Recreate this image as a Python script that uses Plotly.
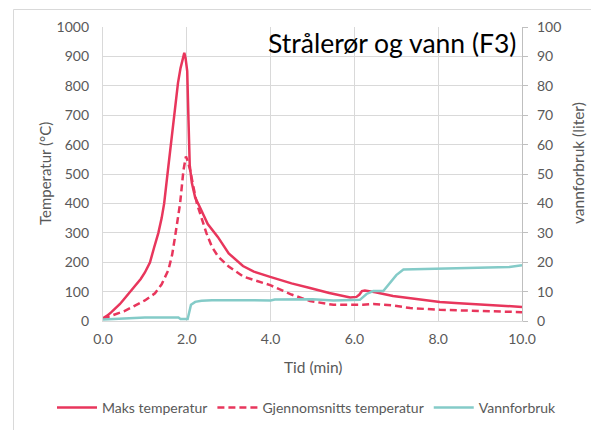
import plotly.graph_objects as go

# ---------------- data ----------------
t_maks = [0, 0.1, 0.2, 0.3, 0.4, 0.5, 0.64, 0.8, 0.9, 1.0, 1.12, 1.22, 1.32, 1.4, 1.46,
          1.55, 1.62, 1.69, 1.75, 1.79, 1.85, 1.9, 1.94, 1.97, 2.01, 2.04, 2.07, 2.12,
          2.2, 2.31, 2.5, 2.74, 3.0, 3.34, 3.6, 3.99, 4.5, 4.94, 5.4, 5.9, 6.05, 6.12,
          6.18, 6.25, 6.5, 6.92, 7.5, 8.04, 8.5, 9.0, 9.5, 10.0]
maks_temp = [10, 18, 30, 42, 57, 74, 97, 124, 143, 165, 199, 250, 299, 350, 400,
             513, 600, 684, 780, 810, 860, 895, 912, 895, 850, 684, 530, 470,
             420, 388, 330, 286, 230, 187, 168, 150, 128, 112, 95, 80, 82, 90,
             102, 104, 98, 85, 74, 65, 60, 56, 52, 48]

t_snitt = [0, 0.25, 0.5, 0.72, 1.0, 1.24, 1.4, 1.56, 1.65, 1.72, 1.78, 1.84, 1.92, 1.98,
           2.02, 2.08, 2.16, 2.24, 2.47, 2.6, 2.75, 3.0, 3.35, 3.99, 4.5, 4.94, 5.5,
           6.0, 6.2, 6.45, 6.92, 7.33, 8.04, 9.31, 10.0]
snitt_temp = [8, 20, 33, 49, 70, 94, 125, 173, 225, 287, 340, 400, 513, 560,
              545, 513, 455, 400, 298, 252, 219, 185, 151, 122, 90, 68, 55,
              54, 55, 58, 53, 44, 38, 33, 30]

t_vann = [0, 0.3, 0.8, 1.0, 1.8, 1.85, 2.02, 2.05, 2.1, 2.2, 2.35, 2.6, 3.0, 4.0, 4.1,
          5.0, 5.5, 6.0, 6.13, 6.29, 6.45, 6.69, 6.8, 7.0, 7.17, 8.04, 9.31, 9.7, 10.0]
vann = [0.5, 0.7, 1.0, 1.2, 1.2, 0.7, 0.7, 3.0, 5.5, 6.5, 6.9, 7.1, 7.0, 7.0, 7.3,
        7.4, 7.0, 7.0, 7.2, 9.2, 10.2, 10.2, 12.2, 15.6, 17.5, 17.8, 18.2, 18.4, 19.0]

x_ticks = [0, 2, 4, 6, 8, 10]
x_ticktext = ["0.0", "2.0", "4.0", "6.0", "8.0", "10.0"]

RED = "#E8365C"
TEAL = "#84CBC8"
GREY_TXT = "#595959"
GRID = "#D9D9D9"
FONT = "Lato"

fig = go.Figure()
fig.add_trace(go.Scatter(x=t_maks, y=maks_temp, name="Maks temperatur", mode="lines",
                         line=dict(color=RED, width=2.5)))
fig.add_trace(go.Scatter(x=t_snitt, y=snitt_temp, name="Gjennomsnitts temperatur", mode="lines",
                         line=dict(color=RED, width=2.5, dash="7px,4px")))
fig.add_trace(go.Scatter(x=t_vann, y=vann, name="Vannforbruk", mode="lines", yaxis="y2",
                         line=dict(color=TEAL, width=2.5)))

L, R, T, B = 103, 69, 27, 109
W, H = 591, 430
pw, ph = W - L - R, H - T - B

def px(xp):
    return (xp - L) / pw

def py(yp):
    return (H - B - yp) / ph

fig.update_layout(
    width=W, height=H,
    margin=dict(l=L, r=R, t=T, b=B, autoexpand=False),
    paper_bgcolor="white", plot_bgcolor="white",
    font=dict(family=FONT, size=14, color=GREY_TXT),
    showlegend=True,
    legend=dict(orientation="h", x=px(52), xanchor="left", y=py(408), yanchor="middle",
                font=dict(size=14, color=GREY_TXT), traceorder="normal",
                itemwidth=40, tracegroupgap=0),
    xaxis=dict(range=[0, 10], tickvals=x_ticks, ticktext=x_ticktext,
               showgrid=True, gridcolor=GRID, gridwidth=1.3,
               showline=True, linecolor=GRID, linewidth=1.3,
               ticks="", ticklabelstandoff=5, zeroline=False,
               tickfont=dict(size=14, color=GREY_TXT)),
    yaxis=dict(range=[0, 1000], dtick=100, showgrid=True, gridcolor=GRID, gridwidth=1.3,
               showline=True, linecolor=GRID, linewidth=1.3, ticks="",
               ticklabelstandoff=10, zeroline=False,
               tickfont=dict(size=14, color=GREY_TXT)),
    yaxis2=dict(range=[0, 100], dtick=10, overlaying="y", side="right",
                showgrid=False, showline=True, linecolor="#BFBFBF", linewidth=1.3,
                ticks="outside", ticklen=5, tickcolor="#BFBFBF",
                ticklabelstandoff=6, zeroline=False,
                tickfont=dict(size=14, color=GREY_TXT)),
    annotations=[
        dict(text="Strålerør og vann (F3)", xref="paper", yref="paper",
             x=px(518), y=py(43), xanchor="right", yanchor="middle", showarrow=False,
             font=dict(family=FONT, size=26.5, color="black")),
        dict(text="Tid (min)", xref="paper", yref="paper", x=px(313), y=py(367),
             xanchor="center", yanchor="middle", showarrow=False,
             font=dict(size=15.5, color=GREY_TXT)),
        dict(text="Temperatur (°C)", xref="paper", yref="paper", x=px(45), y=py(174),
             xanchor="center", yanchor="middle", textangle=-90, showarrow=False,
             font=dict(size=15, color=GREY_TXT)),
        dict(text="vannforbruk (liter)", xref="paper", yref="paper", x=px(578), y=py(163),
             xanchor="center", yanchor="middle", textangle=-90, showarrow=False,
             font=dict(size=15.5, color=GREY_TXT)),
    ],
    shapes=[
        dict(type="rect", xref="paper", yref="paper", x0=px(13.5), y0=py(445),
             x1=px(600), y1=py(9.5), line=dict(color=GRID, width=1), layer="below"),
    ],
)

fig.write_html("out.html")
